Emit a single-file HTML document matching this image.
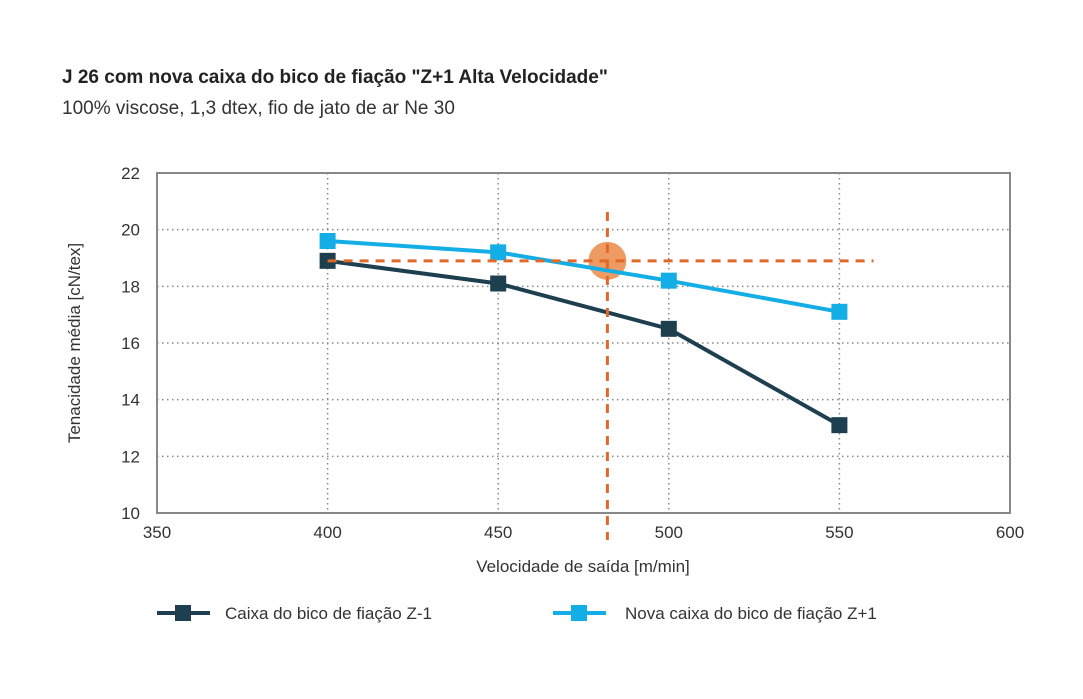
<!DOCTYPE html>
<html><head><meta charset="utf-8"><style>
body{margin:0;background:#fff;font-family:"Liberation Sans",sans-serif;}
</style></head><body>
<svg width="1083" height="694" xmlns="http://www.w3.org/2000/svg" id="svg" font-family="Liberation Sans, sans-serif">
<text x="62" y="83" font-size="19" font-weight="bold" fill="#222">J 26 com nova caixa do bico de fiação "Z+1 Alta Velocidade"</text>
<text x="62" y="114" font-size="19" fill="#333">100% viscose, 1,3 dtex, fio de jato de ar Ne 30</text>
<g id="plot"></g>
<text x="583" y="572" font-size="17" fill="#333" text-anchor="middle">Velocidade de saída [m/min]</text>
<text transform="translate(80,343) rotate(-90)" font-size="17" fill="#333" text-anchor="middle">Tenacidade média [cN/tex]</text>
<g>
<line x1="157" y1="613" x2="210" y2="613" stroke="#1e3f50" stroke-width="4"/>
<rect x="175" y="605" width="16" height="16" fill="#1e3f50"/>
<text x="225" y="619" font-size="17" fill="#333">Caixa do bico de fiação Z-1</text>
</g>
<g>
<line x1="553" y1="613" x2="606" y2="613" stroke="#14aee6" stroke-width="4"/>
<rect x="571" y="605" width="16" height="16" fill="#14aee6"/>
<text x="625" y="619" font-size="17" fill="#333">Nova caixa do bico de fiação Z+1</text>
</g>
</svg>
<script>
const categories=[400,450,500,550];
const seriesZ1=[18.9,18.1,16.5,13.1];
const seriesZp1=[19.6,19.2,18.2,17.1];
const xTicks=[350,400,450,500,550,600];
const yTicks=[10,12,14,16,18,20,22];
const markerX=[482];
const markerY=[18.9];
const NS="http://www.w3.org/2000/svg";
const g=document.getElementById('plot');
const X=v=>157+(v-350)*(1010-157)/250;
const Y=v=>513-(v-10)*(513-173)/12;
function el(t,a,p){const e=document.createElementNS(NS,t);for(const k in a)e.setAttribute(k,a[k]);(p||g).appendChild(e);return e;}
yTicks.forEach(t=>{
 if(t>10&&t<22){const l=el('line',{x1:157,x2:1010,y1:Y(t),y2:Y(t),stroke:'#888','stroke-width':1.5,'stroke-dasharray':'1.5 3.5'});
 
 }
 const tx=el('text',{x:140,y:Y(t)+6,'font-size':17,fill:'#333','text-anchor':'end'});tx.textContent=t;
 
 
});
xTicks.forEach(t=>{
 if(t>350&&t<600){const l=el('line',{x1:X(t),x2:X(t),y1:173,y2:513,stroke:'#888','stroke-width':1.5,'stroke-dasharray':'1.5 3.5'});
 
 }
 const tx=el('text',{x:X(t),y:538,'font-size':17,fill:'#333','text-anchor':'middle'});tx.textContent=t;
 
 
});
const fr=el('rect',{x:157,y:173,width:853,height:340,fill:'none',stroke:'#888','stroke-width':2});


const c=el('circle',{cx:X(markerX[0]),cy:Y(markerY[0]),r:19,fill:'#ee9a63'});


function series(vals,col,name){
 const p=el('polyline',{points:categories.map((c,i)=>X(c)+','+Y(vals[i])).join(' '),fill:'none',stroke:col,'stroke-width':4});
 
 
 categories.forEach((c,i)=>{const r=el('rect',{x:X(c)-8,y:Y(vals[i])-8,width:16,height:16,fill:col});
 
 });
}
series(seriesZp1,'#14aee6','series-z-plus-1');
series(seriesZ1,'#1e3f50','series-z-1');
const h=el('line',{x1:X(400),x2:X(560),y1:Y(markerY[0]),y2:Y(markerY[0]),stroke:'#e0692a','stroke-width':3,'stroke-dasharray':'9 7'});


const v=el('line',{x1:X(markerX[0]),x2:X(markerX[0]),y1:212,y2:540,stroke:'#e0692a','stroke-width':3,'stroke-dasharray':'9 7'});


</script>
</body></html>
